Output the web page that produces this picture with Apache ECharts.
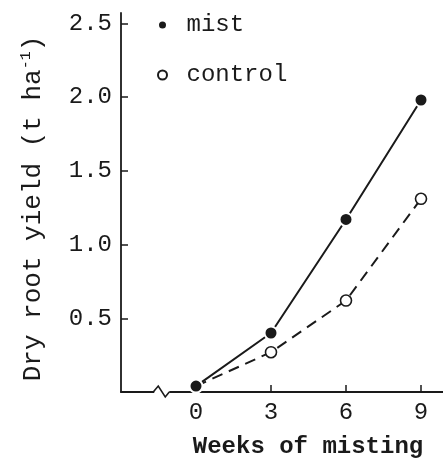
<!DOCTYPE html>
<html>
<head>
<meta charset="utf-8">
<script src="https://cdn.jsdelivr.net/npm/echarts@6/dist/echarts.min.js"></script>
<style>html,body{margin:0;padding:0;background:#fff;}#c{width:443px;height:459px;}</style>
</head>
<body>
<div id="c"></div>
<script>
const weeks = [0, 3, 6, 9];
const mist = [0.04, 0.40, 1.17, 1.98];
const control = [0.04, 0.27, 0.62, 1.31];
const yTickValues = [0.5, 1.0, 1.5, 2.0, 2.5];
const xTickValues = [0, 3, 6, 9];
const seriesNames = ['mist', 'control'];
const xAxisTitle = 'Weeks of misting';

const FONT = 'Liberation Mono';
const INK = '#1a1a1a';
const FS = 24;

const chart = echarts.init(document.getElementById('c'), null, {renderer: 'canvas'});

const option = {
  backgroundColor: '#fff',
  animation: false,
  grid: {left: 121, right: 0, top: 13, bottom: 67, containLabel: false, outerBoundsMode: 'none'},
  legend: {
    orient: 'vertical',
    left: 152,
    top: 8,
    itemWidth: 38,
    itemHeight: 9,
    itemGap: 26,
    icon: 'circle',
    data: seriesNames,
    textStyle: {fontFamily: FONT, fontSize: FS, color: INK}
  },
  xAxis: {
    type: 'value',
    min: -3,
    max: 9.88,
    name: xAxisTitle,
    nameLocation: 'middle',
    nameGap: 43,
    nameTextStyle: {fontFamily: FONT, fontSize: FS, fontWeight: 'bold', color: INK, padding: [0, 0, 0, 52]},
    splitLine: {show: false},
    axisLine: {lineStyle: {color: INK, width: 1.8}},
    axisTick: {inside: true, length: 7, customValues: xTickValues, lineStyle: {color: INK, width: 1.5}},
    axisLabel: {customValues: xTickValues, margin: 9, fontFamily: FONT, fontSize: FS, color: INK}
  },
  yAxis: {
    type: 'value',
    min: 0,
    max: 2.57,
    name: '{m|Dry root yield (t ha}{s|-1}{m|)}',
    nameLocation: 'middle',
    nameGap: 74,
    nameTextStyle: {
      padding: [0, 12, 0, 0],
      rich: {
        m: {fontFamily: FONT, fontSize: 26, color: INK},
        s: {fontFamily: FONT, fontSize: 15, color: INK, verticalAlign: 'top', padding: [0, 0, 13, 0]}
      }
    },
    splitLine: {show: false},
    axisLine: {show: true, onZero: false, lineStyle: {color: INK, width: 1.8}},
    axisTick: {show: true, inside: true, length: 7, customValues: yTickValues, lineStyle: {color: INK, width: 1.5}},
    axisLabel: {customValues: yTickValues, margin: 9, fontFamily: FONT, fontSize: FS, color: INK,
      formatter: v => v.toFixed(1)}
  },
  series: [
    {
      name: seriesNames[1],
      type: 'line',
      data: weeks.map((w, i) => [w, control[i]]),
      symbol: 'circle',
      symbolSize: 11,
      z: 2,
      lineStyle: {color: INK, width: 2, type: [11, 7]},
      itemStyle: {color: '#fff', borderColor: INK, borderWidth: 1.6}
    },
    {
      name: seriesNames[0],
      type: 'line',
      data: weeks.map((w, i) => [w, mist[i]]),
      symbol: 'circle',
      symbolSize: 13,
      z: 3,
      lineStyle: {color: INK, width: 2},
      itemStyle: {color: INK, borderColor: '#fff', borderWidth: 2}
    }
  ]
};
chart.setOption(option);

// axis break marker on the x axis, positioned via the axis scale
const bp = chart.convertToPixel({gridIndex: 0}, [-1.35, 0]);
chart.setOption({
  graphic: [
    {type: 'rect', x: bp[0], y: bp[1], shape: {x: -8, y: -3, width: 15, height: 6}, style: {fill: '#fff'}, z: 100},
    {type: 'polyline', x: bp[0], y: bp[1], shape: {points: [[-9, 0], [-4, -6], [3, 5], [7, 0]]},
      style: {stroke: INK, lineWidth: 1.6, fill: null}, z: 101}
  ]
});
</script>
</body>
</html>
